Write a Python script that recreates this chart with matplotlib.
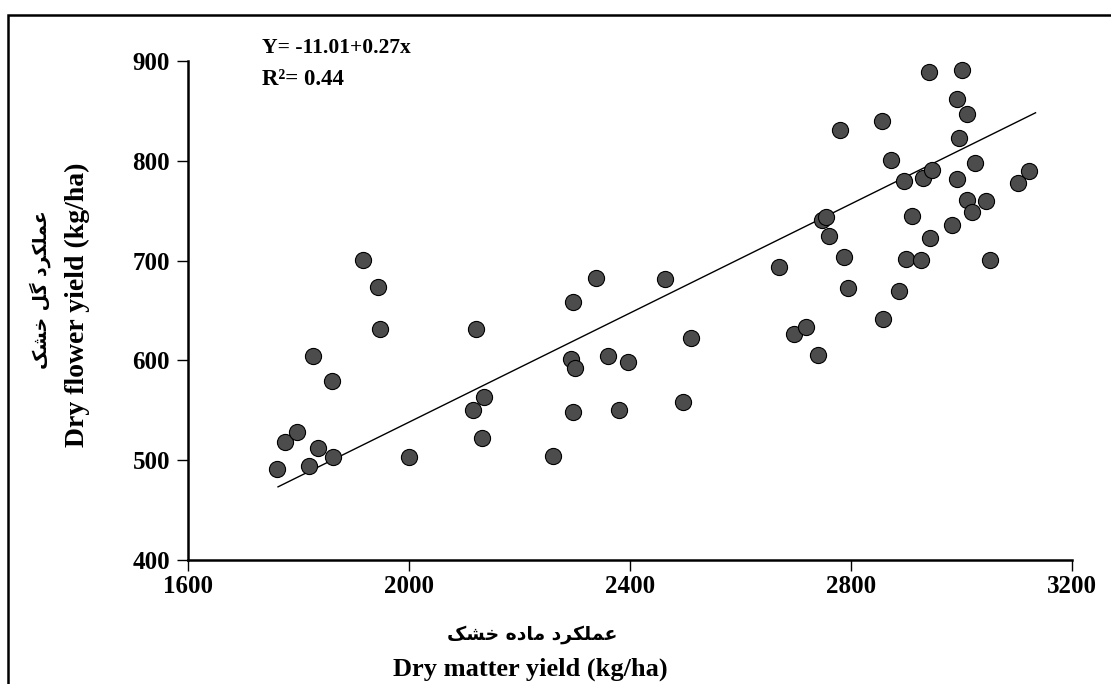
import numpy as np
import matplotlib
matplotlib.use("Agg")
import matplotlib.pyplot as plt
from matplotlib.patches import Rectangle

# --- data (kg/ha) ---
dry_matter = [1761, 1776, 1797, 1819, 1835, 1862, 1826, 1861, 1917, 1944,
              1947, 2000, 2116, 2136, 2132, 2121, 2261, 2293, 2300, 2297,
              2297, 2338, 2360, 2397, 2380, 2463, 2496, 2510, 2670, 2697,
              2719, 2740, 2747, 2755, 2760, 2780, 2788, 2795, 2856, 2858,
              2872, 2887, 2896, 2900, 2911, 2927, 2930, 2941, 2943, 2946,
              2983, 2992, 2992, 2996, 3001, 3010, 3010, 3019, 3024, 3044,
              3052, 3102, 3122]
dry_flower = [491, 518, 528, 494, 512, 503, 604, 579, 701, 674,
              631, 503, 550, 563, 522, 631, 504, 601, 592, 548,
              659, 683, 604, 598, 550, 682, 558, 622, 694, 626,
              633, 605, 741, 744, 725, 831, 704, 673, 840, 641,
              801, 670, 780, 702, 745, 701, 783, 889, 723, 791,
              736, 862, 782, 823, 891, 847, 761, 749, 798, 760,
              701, 778, 790]

# regression as printed on the chart
INTERCEPT = -11.01
SLOPE = 0.27
R2 = 0.44
# the drawn line sits a little above the printed equation
LINE_INTERCEPT = -8.7
LINE_SLOPE = 0.2734
LINE_X = [1763, 3134]

x_ticks = [1600, 2000, 2400, 2800, 3200]
y_ticks = [400, 500, 600, 700, 800, 900]

EQ_TEXT = f"Y= {INTERCEPT:.2f}+{SLOPE:.2f}x"
R2_TEXT = f"R²= {R2:.2f}"
X_LABEL_FA = "عملکرد ماده خشک"
X_LABEL_EN = "Dry matter yield (kg/ha)"
Y_LABEL_FA = "عملکرد گل خشک"
Y_LABEL_EN = "Dry flower yield (kg/ha)"

SERIF = "Liberation Serif"
DOT_FACE = "#4c4c4c"

# matplotlib does no Arabic shaping: map letters to presentation forms
# (isolated, final, initial, medial); two-form letters never join leftwards
FORMS = {
    "ع": ("\uFEC9", "\uFECA", "\uFECB", "\uFECC"),
    "م": ("\uFEE1", "\uFEE2", "\uFEE3", "\uFEE4"),
    "ل": ("\uFEDD", "\uFEDE", "\uFEDF", "\uFEE0"),
    "ک": ("\uFB8E", "\uFB8F", "\uFB90", "\uFB91"),
    "گ": ("\uFB92", "\uFB93", "\uFB94", "\uFB95"),
    "خ": ("\uFEA5", "\uFEA6", "\uFEA7", "\uFEA8"),
    "ش": ("\uFEB5", "\uFEB6", "\uFEB7", "\uFEB8"),
    "ه": ("\uFEE9", "\uFEEA", "\uFEEB", "\uFEEC"),
    "ر": ("\uFEAD", "\uFEAE"),
    "د": ("\uFEA9", "\uFEAA"),
    "ا": ("\uFE8D", "\uFE8E"),
}


def _shape_word(word):
    out = []
    for i, ch in enumerate(word):
        f = FORMS[ch]
        prev_joins = i > 0 and len(FORMS[word[i - 1]]) == 4
        can_left = len(f) == 4 and i < len(word) - 1
        if prev_joins and can_left:
            out.append(f[3])
        elif prev_joins:
            out.append(f[1])
        elif can_left:
            out.append(f[2])
        else:
            out.append(f[0])
    return "".join(reversed(out))


def shape_fa(text):
    return " ".join(_shape_word(w) for w in reversed(text.split(" ")))


fig = plt.figure(figsize=(11.11, 6.84), dpi=100)
ax = fig.add_axes([0.1692, 0.1813, 0.7957, 0.7295])

ax.scatter(dry_matter, dry_flower, s=135, facecolor=DOT_FACE,
           edgecolor="black", linewidth=0.8, zorder=3)

xs = np.array(LINE_X, dtype=float)
ax.plot(xs, LINE_INTERCEPT + LINE_SLOPE * xs, color="black",
        linewidth=1.0, zorder=2)

ax.set_xlim(x_ticks[0], x_ticks[-1])
ax.set_ylim(y_ticks[0], y_ticks[-1])
ax.set_xticks(x_ticks)
ax.set_yticks(y_ticks)
for s in ("top", "right"):
    ax.spines[s].set_visible(False)
for s in ("left", "bottom"):
    ax.spines[s].set_linewidth(1.8)
ax.tick_params(direction="out", length=8, width=1.0)
ax.tick_params(axis="x", pad=2.5)
ax.tick_params(axis="y", pad=5)
for lab in ax.get_xticklabels() + ax.get_yticklabels():
    lab.set_family(SERIF)
    lab.set_fontweight("bold")
    lab.set_fontsize(18)

ax.text(0.084, 1.026, EQ_TEXT, transform=ax.transAxes, family=SERIF,
        fontweight="bold", fontsize=15.5, va="center", ha="left")
ax.text(0.084, 0.962, R2_TEXT, transform=ax.transAxes, family=SERIF,
        fontweight="bold", fontsize=16.5, va="center", ha="left")

# two-line axis titles: Persian above English
fig.text(532 / 1111, 1 - 634 / 684, shape_fa(X_LABEL_FA), family="DejaVu Sans",
         fontweight="bold", fontsize=13.5, ha="center", va="center")
fig.text(530 / 1111, 1 - 669 / 684, X_LABEL_EN, family=SERIF,
         fontweight="bold", fontsize=19, ha="center", va="center")
fig.text(40 / 1111, 1 - 290 / 684, shape_fa(Y_LABEL_FA), family="DejaVu Sans",
         fontweight="bold", fontsize=13.5, ha="center", va="center",
         rotation=90)
fig.text(77 / 1111, 1 - 305 / 684, Y_LABEL_EN, family=SERIF,
         fontweight="bold", fontsize=20, ha="center", va="center",
         rotation=90)

# outer frame (bottom and right edges lie outside the image)
fig.patches.append(Rectangle((8 / 1111, -0.05), 1.05, 1.05 - 15 / 684,
                             transform=fig.transFigure, fill=False,
                             edgecolor="black", linewidth=1.8))

fig.savefig("out.png", dpi=100)
